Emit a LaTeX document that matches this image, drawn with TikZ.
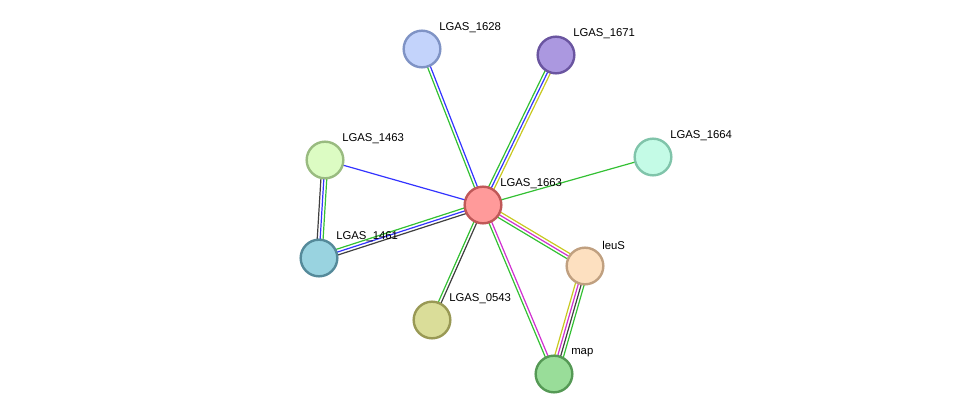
\documentclass[tikz,border=0pt]{standalone}
\usepackage{fontspec}
\setmainfont{Liberation Sans}
\usetikzlibrary{calc,backgrounds}
\definecolor{sgreen}{HTML}{33C033}
\definecolor{sblue}{HTML}{3333FF}
\definecolor{syellow}{HTML}{C8C820}
\definecolor{sblack}{HTML}{404040}
\definecolor{smagenta}{HTML}{D030D0}
\definecolor{fa}{HTML}{FF9A9A}\definecolor{da}{HTML}{C05858}
\definecolor{fb}{HTML}{C3D3FB}\definecolor{db}{HTML}{7F93C5}
\definecolor{fc}{HTML}{AB98E0}\definecolor{dc}{HTML}{6A55A0}
\definecolor{fd}{HTML}{C4FBE6}\definecolor{dd}{HTML}{80C4AA}
\definecolor{fe}{HTML}{DCFCC3}\definecolor{de}{HTML}{99BB80}
\definecolor{ff}{HTML}{99D3E0}\definecolor{df}{HTML}{558A9A}
\definecolor{fg}{HTML}{DADD99}\definecolor{dg}{HTML}{999955}
\definecolor{fh}{HTML}{FDE0C0}\definecolor{dh}{HTML}{C0A080}
\definecolor{fi}{HTML}{99DD99}\definecolor{di}{HTML}{559955}
\tikzset{
  prot/.style n args={2}{circle, minimum size=27.5pt, inner sep=0pt, line width=1.8pt, fill=#1, draw=#2},
  plabel/.style={anchor=west, font=\fontsize{8.5}{10}\selectfont, inner sep=0pt},
}
\newcommand\stredge[3]{%
  \foreach \c/\o in {#3} {
    \draw[\c, line width=0.9pt] ($(#1)!-\o*1.1pt!90:(#2)$) -- ($(#2)!-\o*1.1pt!-90:(#1)$);
  }}
\begin{document}
\begin{tikzpicture}[x=0.75pt, y=-0.75pt]
    \useasboundingbox (0,0) rectangle (976,419);
    % proteins
    \node[prot={fa}{da}] (p1663) at (483,205) {};
    \node[prot={fb}{db}] (p1628) at (422,49) {};
    \node[prot={fc}{dc}] (p1671) at (556,55) {};
    \node[prot={fd}{dd}] (p1664) at (653,157) {};
    \node[prot={fe}{de}] (p1463) at (325,160) {};
    \node[prot={ff}{df}] (p1461) at (319,258) {};
    \node[prot={fg}{dg}] (p0543) at (432,320) {};
    \node[prot={fh}{dh}] (leuS) at (585,266) {};
    \node[prot={fi}{di}] (map) at (554,374) {};
    % labels
    \foreach \n/\t in {p1663/LGAS\_1663, p1628/LGAS\_1628, p1671/LGAS\_1671, p1664/LGAS\_1664,
                       p1463/LGAS\_1463, p1461/LGAS\_1461, p0543/LGAS\_0543, leuS/leuS, map/map}
      \node[plabel] (l-\n) at ($(\n)+(17,-21)$) {\t};
    % interactions
    \begin{scope}[on background layer]
        \stredge{p1663}{p1628}{sgreen/-1, sblue/1}
        \stredge{p1663}{p1671}{sgreen/-2, sblue/0, syellow/2}
        \stredge{p1663}{p1664}{sgreen/0}
        \stredge{p1663}{p1463}{sblue/0}
        \stredge{p1463}{p1461}{sgreen/-2, sblue/0, sblack/2}
        \stredge{p1663}{p1461}{sgreen/2, sblue/0, sblack/-2}
        \stredge{p1663}{p0543}{sgreen/1, sblack/-1}
        \stredge{p1663}{leuS}{sgreen/2, smagenta/0, syellow/-2}
        \stredge{p1663}{map}{sgreen/1, smagenta/-1}
        \stredge{leuS}{map}{sgreen/-3, sblack/-1, smagenta/1, syellow/3}
    \end{scope}
\end{tikzpicture}
\end{document}
